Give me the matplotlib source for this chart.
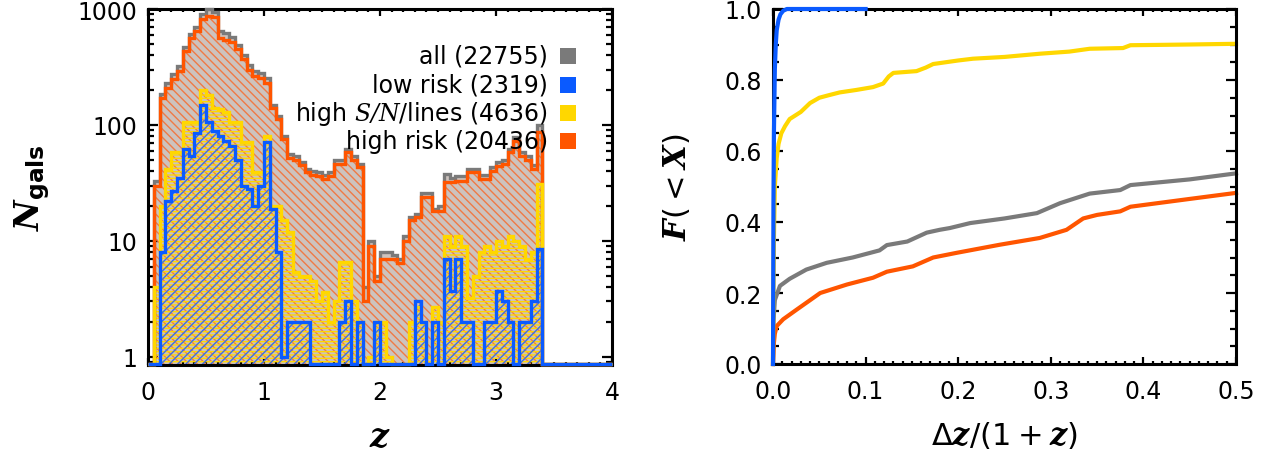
import numpy as np
import matplotlib
matplotlib.use('Agg')
import matplotlib.pyplot as plt
from matplotlib.ticker import MultipleLocator, LogLocator, FuncFormatter, NullFormatter
from matplotlib.patches import Rectangle

plt.rcParams['font.family'] = ['DejaVu Sans']
plt.rcParams['mathtext.fontset'] = 'custom'
plt.rcParams['mathtext.it'] = 'DejaVu Serif:italic:bold'
plt.rcParams['mathtext.rm'] = 'DejaVu Sans'
plt.rcParams['mathtext.bf'] = 'DejaVu Sans:bold'
plt.rcParams['mathtext.sf'] = 'DejaVu Serif:italic'
plt.rcParams['hatch.linewidth'] = 1.0

# ---------------- data: redshift histograms (bin width 0.05, z = 0 .. 4) ----------------
z_edges = np.linspace(0.0, 4.0, 81)

n_all = [0, 33, 185, 230, 275, 320, 470, 610, 700, 900,
         1000, 950, 640, 620, 570, 490, 400, 330, 290, 280,
         255, 150, 120, 80, 56, 54, 48, 42, 40, 39,
         37, 39, 50, 50, 62, 54, 46, 4, 10, 5,
         8, 8, 7.5, 7, 11, 16, 17, 26, 26, 19,
         20, 38, 35, 36, 36, 42, 42, 37, 37, 43,
         48, 50, 62, 78, 58, 54, 45, 100, 0, 0,
         0, 0, 0, 0, 0, 0, 0, 0, 0, 0]

n_high_risk = [0, 30, 170, 210, 250, 290, 430, 560, 640, 820,
               870, 860, 560, 540, 520, 450, 370, 300, 265, 255,
               230, 140, 112, 75, 52, 50, 45, 39, 37, 36,
               34, 36, 46, 46, 58, 50, 43, 3, 9, 4.5,
               7, 7, 7, 6.5, 10, 15, 16, 24, 24, 18,
               18, 32, 32, 33, 33, 39, 39, 34, 34, 40,
               44, 46, 58, 73, 54, 50, 42, 87, 0, 0,
               0, 0, 0, 0, 0, 0, 0, 0, 0, 0]

n_high_sn = [0, 4, 20, 42, 58, 58, 106, 106, 106, 200,
             180, 140, 137, 130, 105, 105, 71, 71, 39, 39,
             80, 20, 20, 15, 12, 5.4, 5, 5, 4.5, 3,
             3.6, 2, 3, 6.6, 6.6, 3, 2, 0, 1, 2,
             2, 1, 0, 0, 0, 2, 2.7, 2, 1, 2.7,
             2, 11, 9, 11, 9, 3.2, 5, 8, 9, 8,
             10, 9, 11, 10, 9, 7, 8, 31, 0, 0,
             0, 0, 0, 0, 0, 0, 0, 0, 0, 0]

n_low_risk = [0, 0, 8, 22, 27, 35, 62, 54, 86, 150,
              105, 88, 80, 72, 66, 50, 30, 28, 20, 30,
              71, 19, 8, 1, 2, 2, 2, 2, 0, 0,
              0, 0, 0, 2, 3, 0, 2, 0, 0, 2,
              0, 0, 0, 0, 0, 0, 3, 2, 0, 2,
              0, 7, 3.7, 7, 2, 2, 0, 0, 2, 2,
              3.7, 3, 2, 0, 2, 2, 3, 8.5, 0, 0,
              0, 0, 0, 0, 0, 0, 0, 0, 0, 0]

legend_labels = ['all (22755)', 'low risk (2319)',
                 r'high $\mathsf{S/N}$/lines (4636)', 'high risk (20436)']

# ---------------- data: cumulative distributions of dz/(1+z) ----------------
x_low = [0, 0.0005, 0.001, 0.002, 0.003, 0.004, 0.006, 0.008, 0.011, 0.015, 0.03, 0.1]
f_low = [0, 0.45, 0.65, 0.83, 0.90, 0.94, 0.97, 0.985, 0.995, 1.0, 1.0, 1.0]

x_sn = [0, 0.0005, 0.001, 0.002, 0.004, 0.006, 0.009, 0.013, 0.018, 0.024, 0.03, 0.04,
        0.05, 0.06, 0.072, 0.09, 0.108, 0.119, 0.125, 0.13, 0.155, 0.165, 0.173, 0.2,
        0.216, 0.25, 0.288, 0.32, 0.342, 0.378, 0.386, 0.42, 0.45, 0.5]
f_sn = [0, 0.2, 0.35, 0.5, 0.58, 0.62, 0.65, 0.67, 0.69, 0.70, 0.71, 0.735,
        0.75, 0.757, 0.765, 0.772, 0.78, 0.79, 0.81, 0.82, 0.825, 0.835, 0.845, 0.855,
        0.86, 0.865, 0.874, 0.88, 0.888, 0.89, 0.898, 0.899, 0.9, 0.902]

x_all = [0, 0.0005, 0.002, 0.0075, 0.018, 0.036, 0.058, 0.086, 0.115, 0.123, 0.145,
         0.166, 0.18, 0.191, 0.213, 0.25, 0.285, 0.31, 0.342, 0.375, 0.386, 0.45, 0.5]
f_all = [0, 0.12, 0.18, 0.22, 0.24, 0.266, 0.285, 0.30, 0.32, 0.335, 0.345,
         0.37, 0.378, 0.383, 0.397, 0.41, 0.425, 0.453, 0.48, 0.49, 0.504, 0.52, 0.537]

x_high = [0, 0.001, 0.002, 0.004, 0.011, 0.026, 0.051, 0.08, 0.108, 0.123, 0.151,
          0.173, 0.198, 0.245, 0.288, 0.317, 0.335, 0.35, 0.375, 0.386, 0.45, 0.5]
f_high = [0, 0.06, 0.085, 0.107, 0.126, 0.154, 0.20, 0.224, 0.243, 0.26, 0.275,
          0.30, 0.313, 0.336, 0.355, 0.378, 0.41, 0.42, 0.43, 0.443, 0.465, 0.482]

c_all = '#7a7a7a'
c_low = '#0a5aff'
c_sn = '#ffd700'
c_high = '#ff5500'

W, H = 1271, 460
fig = plt.figure(figsize=(W / 100, H / 100), dpi=100)
ax1 = fig.add_axes([148 / W, (H - 366) / H, 464 / W, 356 / H])
ax2 = fig.add_axes([773 / W, (H - 365) / H, 463 / W, 355 / H])

ymin = 0.85
floor = 0.86


def clipv(v):
    v = np.asarray(v, dtype=float)
    return np.where(v > 0, v, floor)


# fills
ax1.stairs(clipv(n_all), z_edges, baseline=floor, fill=True,
           facecolor='#cdc3be', edgecolor='#cdc3be', linewidth=0, zorder=1)
ax1.stairs(clipv(n_high_risk), z_edges, baseline=floor, fill=True,
           facecolor='none', edgecolor='#f07a45', hatch='\\\\\\\\', linewidth=0, zorder=2)
ax1.stairs(clipv(n_high_sn), z_edges, baseline=floor, fill=True,
           facecolor='none', edgecolor=c_sn, hatch='-----', linewidth=0, zorder=3)
ax1.stairs(clipv(n_low_risk), z_edges, baseline=floor, fill=True,
           facecolor='none', edgecolor='#3f6fe0', hatch='////', linewidth=0, zorder=4)
# outlines (drawn above the frame, like the reference)
lw = 2.4
ax1.stairs(clipv(n_all), z_edges, baseline=None, color=c_all, linewidth=lw, zorder=12, clip_on=False)
ax1.stairs(clipv(n_high_risk), z_edges, baseline=None, color=c_high, linewidth=lw, zorder=13, clip_on=False)
ax1.stairs(clipv(n_high_sn), z_edges, baseline=None, color=c_sn, linewidth=lw, zorder=14, clip_on=False)
ax1.stairs(clipv(n_low_risk), z_edges, baseline=None, color=c_low, linewidth=lw, zorder=15, clip_on=False)

ax1.set_yscale('log')
ax1.set_xlim(0, 4)
ax1.set_ylim(ymin, 1000)
ax1.xaxis.set_major_locator(MultipleLocator(1))
ax1.xaxis.set_minor_locator(MultipleLocator(0.1))
ax1.xaxis.set_major_formatter(FuncFormatter(lambda v, p: '%d' % round(v)))
ax1.yaxis.set_major_locator(LogLocator(base=10, numticks=10))
ax1.yaxis.set_minor_locator(LogLocator(base=10, subs=np.arange(2, 10), numticks=20))
ax1.yaxis.set_major_formatter(FuncFormatter(lambda v, p: '%d' % round(v)))
ax1.yaxis.set_minor_formatter(NullFormatter())

ax1.set_xlabel(r'$z$', fontsize=24)
ax1.set_ylabel(r'$N_{\mathbf{gals}}$', fontsize=24)
ax1.xaxis.set_label_coords(0.5, -0.155)
ax1.yaxis.set_label_coords(-0.207, 0.5)

colors_leg = [c_all, c_low, c_sn, c_high]
rows = [0.868, 0.787, 0.708, 0.629]
for lab, col, yy in zip(legend_labels, colors_leg, rows):
    ax1.text(0.862, yy, lab, transform=ax1.transAxes, ha='right', va='center',
             fontsize=17, zorder=20)
    ax1.add_patch(Rectangle((0.888, yy - 0.0225), 0.0345, 0.045, transform=ax1.transAxes,
                            facecolor=col, edgecolor='none', zorder=20))

# right panel
lw2 = 3.0
ax2.plot(x_all, f_all, color=c_all, linewidth=lw2, clip_on=False, zorder=3)
ax2.plot(x_high, f_high, color=c_high, linewidth=lw2, clip_on=False, zorder=4)
ax2.plot(x_sn, f_sn, color=c_sn, linewidth=lw2, clip_on=False, zorder=5)
ax2.plot(x_low, f_low, color=c_low, linewidth=lw2, clip_on=False, zorder=12)
ax2.set_xlim(0, 0.5)
ax2.set_ylim(0, 1.0)
ax2.xaxis.set_major_locator(MultipleLocator(0.1))
ax2.xaxis.set_minor_locator(MultipleLocator(0.01))
ax2.yaxis.set_major_locator(MultipleLocator(0.2))
ax2.yaxis.set_minor_locator(MultipleLocator(0.05))
ax2.xaxis.set_major_formatter(FuncFormatter(lambda v, p: '%.1f' % v))
ax2.yaxis.set_major_formatter(FuncFormatter(lambda v, p: '%.1f' % v))
ax2.set_xlabel(r'$\Delta z/(1+z)$', fontsize=22)
ax2.set_ylabel(r'$F(<X)$', fontsize=22)
ax2.xaxis.set_label_coords(0.5, -0.155)
ax2.yaxis.set_label_coords(-0.175, 0.5)

for ax in (ax1, ax2):
    for s in ax.spines.values():
        s.set_linewidth(2.2)
        s.set_zorder(10)
    ax.tick_params(which='both', direction='in', top=True, right=True, width=1.6, labelsize=17)
    ax.tick_params(axis='x', which='major', length=5, pad=11)
    ax.tick_params(axis='x', which='minor', length=2.5)
    ax.tick_params(axis='y', which='major', length=7, pad=8)
    ax.tick_params(axis='y', which='minor', length=4.5)

fig.savefig('out.png', dpi=100)
